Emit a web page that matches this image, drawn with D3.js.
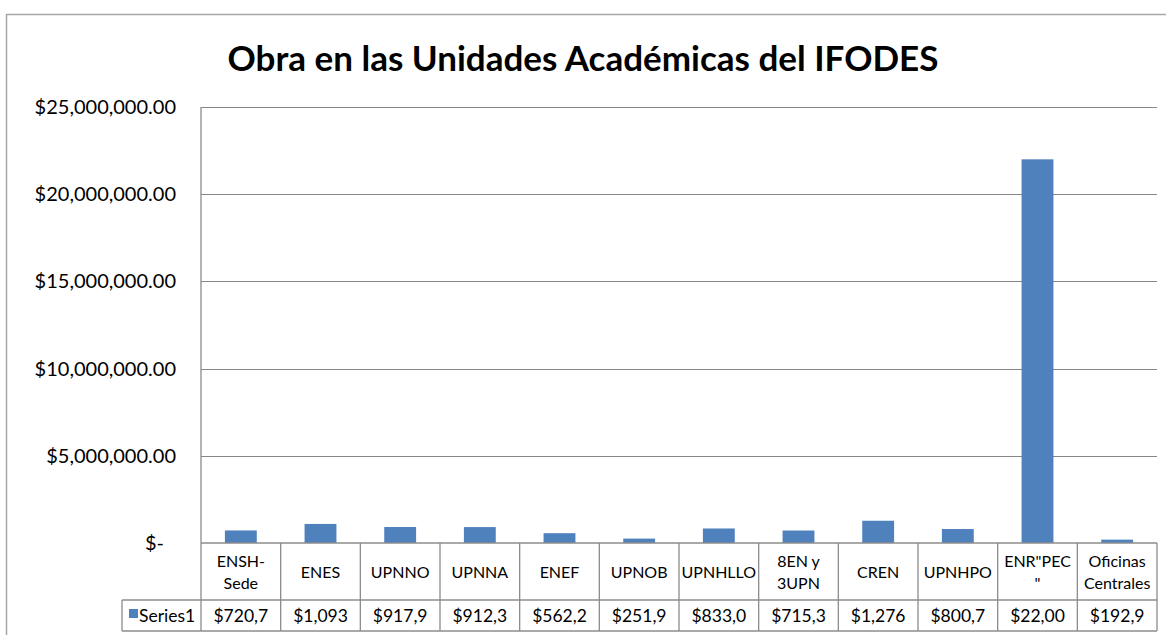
<!DOCTYPE html>
<html>
<head>
<meta charset="utf-8">
<script src="https://cdn.jsdelivr.net/npm/d3@7"></script>
<style>
  body { margin: 0; background: #fff; }
  svg { font-family: Lato, "Open Sans", sans-serif; }
</style>
</head>
<body>
<svg id="chart" width="1166" height="635"></svg>
<script>
// categories, two lines where the table wraps them
const categories = [
  ["ENSH-", "Sede"], ["ENES"], ["UPNNO"], ["UPNNA"], ["ENEF"], ["UPNOB"],
  ["UPNHLLO"], ["8EN y", "3UPN"], ["CREN"], ["UPNHPO"], ["ENR\"PEC", "\""],
  ["Oficinas", "Centrales"]
];
const series1 = [720700, 1093000, 917900, 912300, 562200, 251900,
                 833000, 715300, 1276000, 800700, 22000000, 192900];
const yTicks = [0, 5000000, 10000000, 15000000, 20000000, 25000000];
const seriesName = "Series1";
const title = "Obra en las Unidades Académicas del IFODES";

const svg = d3.select("#chart");
const plotLeft = 201, plotRight = 1157, plotTop = 107, plotBottom = 543;
const rowMid = 600, rowEnd = 631, legendLeft = 122;
const ids = categories.map((c, i) => i);

// chart border
svg.append("rect")
  .attr("x", 6.5).attr("y", 14.5).attr("width", 1170).attr("height", 640)
  .attr("fill", "none").attr("stroke", "#a6a6a6").attr("stroke-width", 1.5);

svg.append("text")
  .attr("x", 583).attr("y", 71)
  .attr("text-anchor", "middle")
  .attr("font-size", 35).attr("font-weight", "bold")
  .text(title);

const x = d3.scaleBand().domain(ids).range([plotLeft, plotRight]);
const xBar = d3.scaleBand().domain(ids).range([plotLeft, plotRight])
  .paddingInner(0.6).paddingOuter(0.3);
const y = d3.scaleLinear().domain([0, 25000000]).range([plotBottom, plotTop]);

// gridlines
svg.append("g").selectAll("line")
  .data(yTicks.slice(1))
  .join("line")
  .attr("x1", plotLeft).attr("x2", plotRight)
  .attr("y1", d => Math.round(y(d)) + 0.5).attr("y2", d => Math.round(y(d)) + 0.5)
  .attr("stroke", "#868686");

// y axis labels
const money = d3.format("$,.2f");
svg.append("g").selectAll("text")
  .data(yTicks)
  .join("text")
  .attr("x", d => d === 0 ? 164 : 176)
  .attr("y", d => y(d))
  .attr("dy", "0.35em")
  .attr("text-anchor", "end")
  .attr("font-size", 20)
  .text(d => d === 0 ? "$-" : money(d));

// bars
svg.append("g").selectAll("rect")
  .data(series1)
  .join("rect")
  .attr("x", (d, i) => xBar(i))
  .attr("width", xBar.bandwidth())
  .attr("y", d => y(d))
  .attr("height", d => y(0) - y(d))
  .attr("fill", "#4f81bd");

// data table
const grid = svg.append("g").attr("stroke", "#8c8c8c").attr("stroke-width", 1.3);
grid.append("line").attr("x1", plotLeft).attr("x2", plotRight).attr("y1", plotBottom).attr("y2", plotBottom);
grid.append("line").attr("x1", legendLeft).attr("x2", plotRight).attr("y1", rowMid).attr("y2", rowMid);
grid.append("line").attr("x1", legendLeft).attr("x2", plotRight).attr("y1", rowEnd).attr("y2", rowEnd);
grid.append("line").attr("x1", legendLeft).attr("x2", legendLeft).attr("y1", rowMid).attr("y2", rowEnd);
grid.append("line").attr("x1", plotLeft).attr("x2", plotLeft).attr("y1", plotTop).attr("y2", rowEnd);
grid.selectAll(".sep")
  .data(ids)
  .join("line")
  .attr("class", "sep")
  .attr("x1", i => x(i) + x.bandwidth()).attr("x2", i => x(i) + x.bandwidth())
  .attr("y1", plotBottom).attr("y2", rowEnd);

// category labels
const catText = svg.append("g").selectAll("text")
  .data(categories)
  .join("text")
  .attr("text-anchor", "middle")
  .attr("font-size", 16)
  .attr("x", (d, i) => x(i) + x.bandwidth() / 2)
  .attr("y", d => 572 - (d.length - 1) * 11);
catText.selectAll("tspan")
  .data(d => d)
  .join("tspan")
  .attr("x", function () { return this.parentNode.getAttribute("x"); })
  .attr("dy", (d, i) => i === 0 ? "0.35em" : 22)
  .text(d => d);

// values row, cut off like the narrow table cells
svg.append("g").selectAll("text")
  .data(series1)
  .join("text")
  .attr("text-anchor", "middle")
  .attr("font-size", 17.5)
  .attr("x", (d, i) => x(i) + x.bandwidth() / 2)
  .attr("y", (rowMid + rowEnd) / 2)
  .attr("dy", "0.35em")
  .text(d => money(d).slice(0, 6));

// legend key
svg.append("rect")
  .attr("x", 129).attr("y", 609).attr("width", 9).attr("height", 9)
  .attr("fill", "#4f81bd");
svg.append("text")
  .attr("x", 139).attr("y", (rowMid + rowEnd) / 2).attr("dy", "0.35em")
  .attr("font-size", 17.5)
  .text(seriesName);
</script>
</body>
</html>
